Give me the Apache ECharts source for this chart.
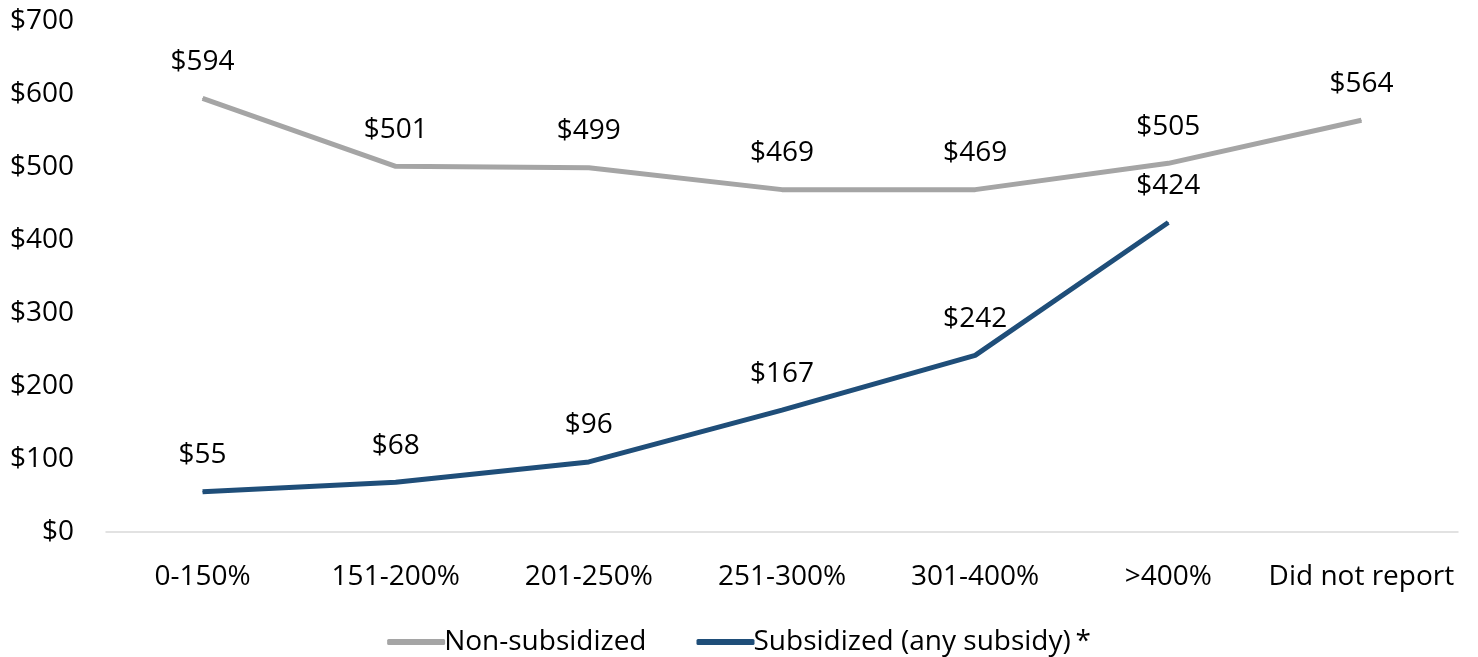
<!DOCTYPE html>
<html><head><meta charset="utf-8">
<script src="https://cdn.jsdelivr.net/npm/echarts@6/dist/echarts.min.js"></script>
<style>html,body{margin:0;padding:0;background:#fff}#c{width:1478px;height:657px}</style>
</head><body><div id="c"></div>
<script>
const categories = ['0-150%','151-200%','201-250%','251-300%','301-400%','>400%','Did not report'];
const nonSubsidized = [594,501,499,469,469,505,564];
const subsidized = [55,68,96,167,242,424,null];
const yTicks = [0,100,200,300,400,500,600,700];

const font = '"Open Sans", Lato, sans-serif';
const fs = 28;
const chart = echarts.init(document.getElementById('c'));
chart.setOption({
  animation:false,
  textStyle:{fontFamily:font},
  grid:{left:106,right:20,top:21,bottom:125,containLabel:false},
  legend:{
    top:623,left:'center',
    itemWidth:58,itemHeight:6,itemGap:50,icon:'roundRect',
    textStyle:{fontSize:fs,color:'#000',fontFamily:font,padding:[0,0,0,-6]},
    data:[{name:'Non-subsidized'},{name:'Subsidized (any subsidy)\u2009*'}]
  },
  xAxis:{type:'category',data:categories,boundaryGap:true,
    axisLine:{lineStyle:{color:'#d9d9d9',width:1.5}},axisTick:{show:false},
    axisLabel:{fontSize:fs,color:'#000',margin:31,fontFamily:font,interval:0}},
  yAxis:{type:'value',min:yTicks[0],max:yTicks[yTicks.length-1],interval:100,
    axisLine:{show:false},axisTick:{show:false},splitLine:{show:false},
    axisLabel:{fontSize:fs,color:'#000',margin:32,fontFamily:font,formatter:v=>'$'+v}},
  series:[
    {name:'Non-subsidized',type:'line',data:nonSubsidized,symbol:'circle',symbolSize:1,showSymbol:true,
     lineStyle:{color:'#a5a5a5',width:5},itemStyle:{color:'#a5a5a5'},
     label:{show:true,position:'top',distance:22,fontSize:fs,color:'#000',fontFamily:font,formatter:p=>'$'+p.value}},
    {name:'Subsidized (any subsidy)\u2009*',type:'line',data:subsidized,symbol:'circle',symbolSize:1,showSymbol:true,
     lineStyle:{color:'#1f4e79',width:5},itemStyle:{color:'#1f4e79'},
     label:{show:true,position:'top',distance:22,fontSize:fs,color:'#000',fontFamily:font,formatter:p=>'$'+p.value}}
  ]
});
</script></body></html>
